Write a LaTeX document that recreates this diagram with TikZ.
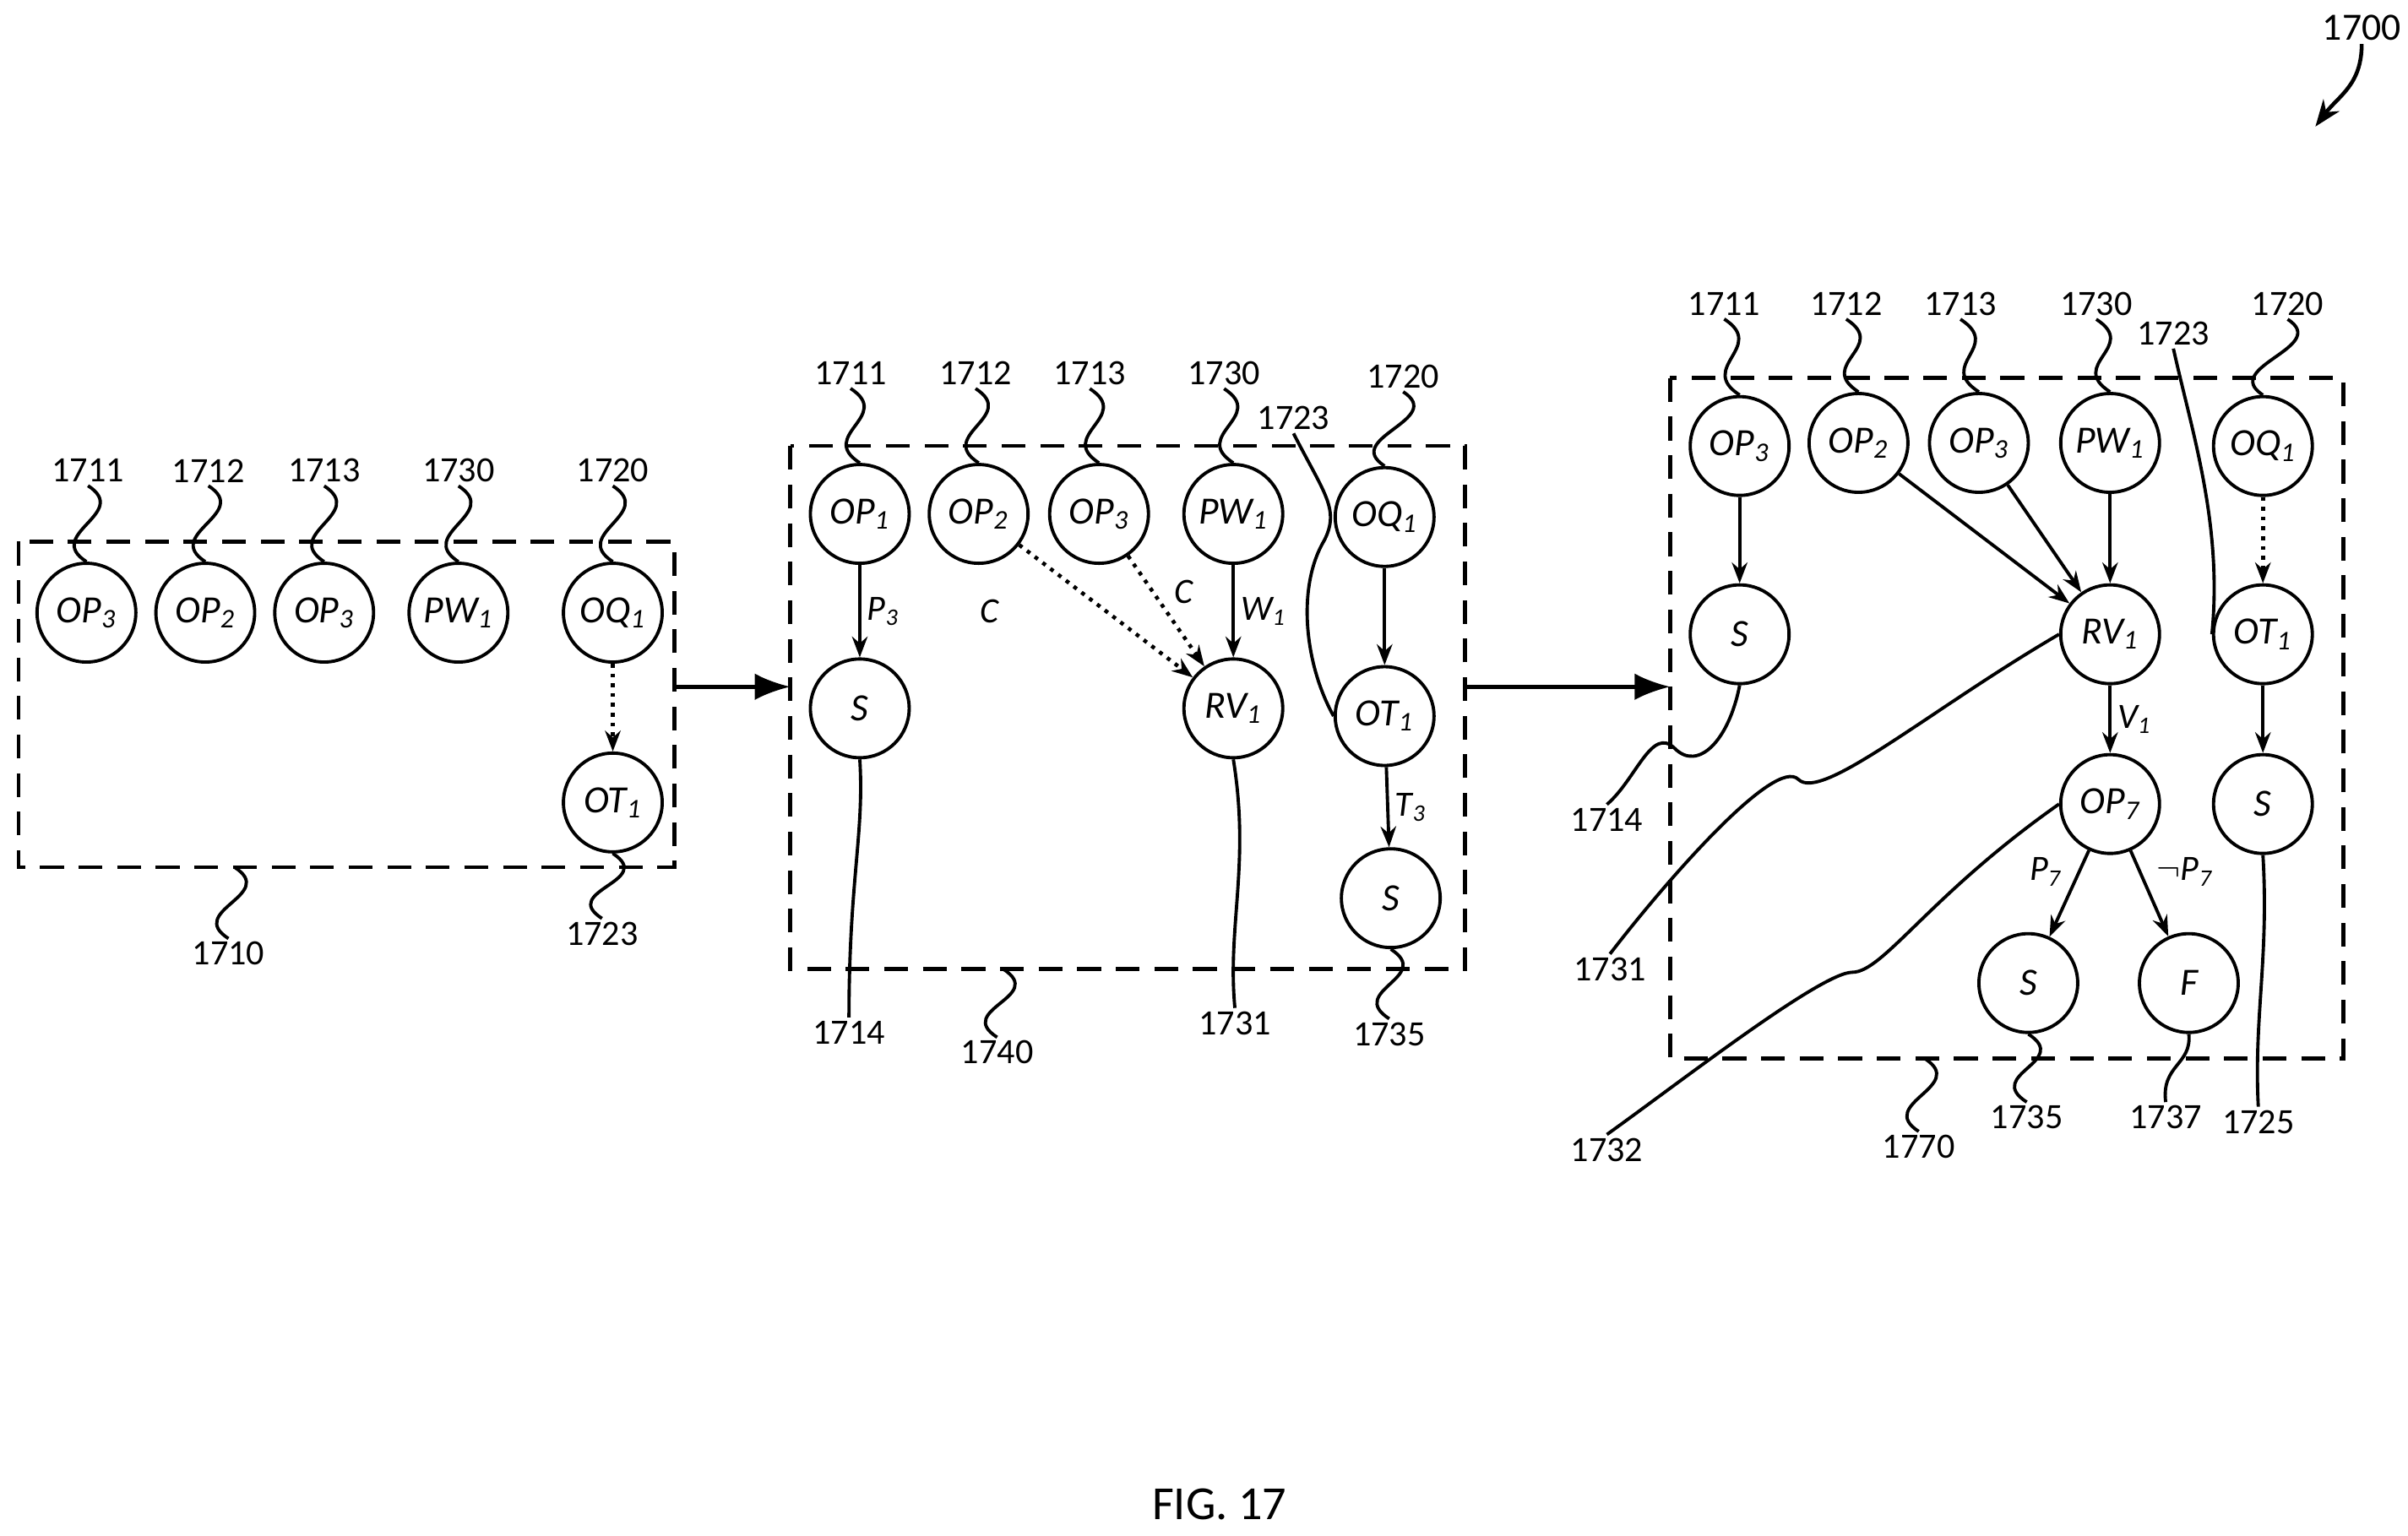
\documentclass[tikz,border=0pt]{standalone}
\usepackage{fontspec}
\setmainfont{Carlito}
\usetikzlibrary{arrows.meta}
\tikzset{
  st/.style={circle, draw, line width=1.1pt, minimum size=1.17cm, inner sep=0pt, font=\fontsize{13}{14}\selectfont\itshape},
  num/.style={font=\fontsize{12}{13}\selectfont, inner sep=1pt},
  edge/.style={line width=1.1pt, -{Stealth[length=7pt]}},
  dot/.style={line width=1.3pt, dotted, -{Stealth[length=7pt]}},
  lead/.style={line width=1.1pt},
  frame/.style={line width=1.3pt, dash pattern=on 8pt off 5pt},
  lbl/.style={font=\fontsize{12}{13}\selectfont\itshape, inner sep=2pt}
}
\newcommand\sq[2]{\draw[lead] (#1) .. controls +(28,18) and +(-28,-18) .. (#2);}
\newcommand\sub[1]{\textsubscript{#1}}
\begin{document}
\begin{tikzpicture}[x=0.018276cm, y=-0.018276cm]
\useasboundingbox (0,0) rectangle (1560,995);
% panel 1
\draw[frame] (12,351) rectangle (437,562);
\node[st] (a1) at (56,397) {OP\sub{3}};
\node[st] (a2) at (133,397) {OP\sub{2}};
\node[st] (a3) at (210,397) {OP\sub{3}};
\node[st] (a4) at (297,397) {PW\sub{1}};
\node[st] (a5) at (397,397) {OQ\sub{1}};
\node[st] (a6) at (397,520) {OT\sub{1}};
\draw[dot] (a5) -- (a6);
\node[num] (na1) at (57,305) {1711};
\node[num] (na2) at (135,305) {1712};
\node[num] (na3) at (210,305) {1713};
\node[num] (na4) at (297,305) {1730};
\node[num] (na5) at (397,305) {1720};
\sq{na1.south}{a1.north}
\sq{na2.south}{a2.north}
\sq{na3.south}{a3.north}
\sq{na4.south}{a4.north}
\sq{na5.south}{a5.north}
\node[num] (na6) at (390,605) {1723};
\sq{a6.south}{na6.north}
\node[num] (na7) at (148,618) {1710};
\coordinate (fa) at (152,562);
\sq{fa}{na7.north}
% arrow 1
\coordinate (p1) at (437,445);
\coordinate (p2) at (512,445);
\draw[line width=1.3pt, -{Latex[length=12pt,width=9pt]}] (p1) -- (p2);
% panel 2
\draw[frame] (512,289) rectangle (949,628);
\node[st] (b1) at (557,333) {OP\sub{1}};
\node[st] (b2) at (634,333) {OP\sub{2}};
\node[st] (b3) at (712,333) {OP\sub{3}};
\node[st] (b4) at (799,333) {PW\sub{1}};
\node[st] (b5) at (897,335) {OQ\sub{1}};
\node[st] (b6) at (557,459) {S};
\node[st] (b7) at (799,459) {RV\sub{1}};
\node[st] (b8) at (897,464) {OT\sub{1}};
\node[st] (b9) at (901,582) {S};
\draw[edge] (b1) -- node[lbl, right] {P\sub{3}} (b6);
\draw[dot] (b2) -- (b7);
\node[lbl] at (641,396) {C};
\draw[dot] (b3) -- node[lbl, above right] {C} (b7);
\draw[edge] (b4) -- node[lbl, right] {W\sub{1}} (b7);
\draw[edge] (b5) -- (b8);
\draw[edge] (b8) -- node[lbl, right] {T\sub{3}} (b9);
\node[num] (nb1) at (551,242) {1711};
\node[num] (nb2) at (632,242) {1712};
\node[num] (nb3) at (706,242) {1713};
\node[num] (nb4) at (793,242) {1730};
\node[num] (nb5) at (909,244) {1720};
\sq{nb1.south}{b1.north}
\sq{nb2.south}{b2.north}
\sq{nb3.south}{b3.north}
\sq{nb4.south}{b4.north}
\sq{nb5.south}{b5.north}
\node[num] (nb6) at (838,271) {1723};
\draw[lead] (nb6.south) .. controls (858,320) and (868,330) .. (858,350) .. controls (840,380) and (845,430) .. (b8.west);
\node[num] (nb7) at (550,669) {1714};
\draw[lead] (b6.south) .. controls (560,540) and (550,570) .. (nb7.north);
\node[num] (nb8) at (800,663) {1731};
\draw[lead] (b7.south) .. controls (810,560) and (795,600) .. (nb8.north);
\node[num] (nb9) at (900,670) {1735};
\sq{b9.south}{nb9.north}
\node[num] (nb10) at (646,682) {1740};
\coordinate (fb) at (650,628);
\sq{fb}{nb10.north}
% arrow 2
\coordinate (p3) at (949,445);
\coordinate (p4) at (1082,445);
\draw[line width=1.3pt, -{Latex[length=12pt,width=9pt]}] (p3) -- (p4);
% panel 3
\draw[frame] (1082,245) rectangle (1518,686);
\node[st] (c1) at (1127,289) {OP\sub{3}};
\node[st] (c2) at (1204,287) {OP\sub{2}};
\node[st] (c3) at (1282,287) {OP\sub{3}};
\node[st] (c4) at (1367,287) {PW\sub{1}};
\node[st] (c5) at (1466,289) {OQ\sub{1}};
\node[st] (c6) at (1127,411) {S};
\node[st] (c7) at (1367,411) {RV\sub{1}};
\node[st] (c8) at (1466,411) {OT\sub{1}};
\node[st] (c9) at (1367,521) {OP\sub{7}};
\node[st] (c10) at (1466,521) {S};
\node[st] (c11) at (1314,637) {S};
\node[st] (c12) at (1418,637) {F};
\draw[edge] (c1) -- (c6);
\draw[edge] (c2) -- (c7);
\draw[edge] (c3) -- (c7);
\draw[edge] (c4) -- (c7);
\draw[dot] (c5) -- (c8);
\draw[edge] (c8) -- (c10);
\draw[edge] (c7) -- node[lbl, right] {V\sub{1}} (c9);
\draw[edge] (c9) -- node[lbl, above left] {P\sub{7}} (c11);
\draw[edge] (c9) -- node[lbl, above right] {$\neg$P\sub{7}} (c12);
\node[num] (nc1) at (1117,197) {1711};
\node[num] (nc2) at (1196,197) {1712};
\node[num] (nc3) at (1270,197) {1713};
\node[num] (nc4) at (1358,197) {1730};
\node[num] (nc5) at (1482,197) {1720};
\sq{nc1.south}{c1.north}
\sq{nc2.south}{c2.north}
\sq{nc3.south}{c3.north}
\sq{nc4.south}{c4.north}
\sq{nc5.south}{c5.north}
\node[num] (nc6) at (1408,216) {1723};
\draw[lead] (nc6.south) .. controls (1420,280) and (1440,340) .. (c8.west);
\node[num] (nc7) at (1041,531) {1714};
\draw[lead] (c6.south) .. controls (1120,480) and (1100,500) .. (1085,485) .. controls (1070,470) and (1060,505) .. (nc7.north);
\node[num] (nc8) at (1043,628) {1731};
\draw[lead] (c7.west) .. controls (1250,460) and (1180,520) .. (1165,505) .. controls (1150,490) and (1080,570) .. (nc8.north);
\node[num] (nc9) at (1041,745) {1732};
\draw[lead] (c9.west) .. controls (1250,580) and (1220,630) .. (1200,630) .. controls (1180,630) and (1090,700) .. (nc9.north);
\node[num] (nc10) at (1313,724) {1735};
\sq{c11.south}{nc10.north}
\node[num] (nc11) at (1403,724) {1737};
\draw[lead] (c12.south) .. controls (1420,690) and (1400,690) .. (nc11.north);
\node[num] (nc12) at (1463,727) {1725};
\draw[lead] (c10.south) .. controls (1470,620) and (1460,660) .. (nc12.north);
\node[num] (nc13) at (1243,743) {1770};
\coordinate (fc) at (1247,686);
\sq{fc}{nc13.north}
% figure number
\node[num, font=\fontsize{13}{14}\selectfont] (n1700) at (1530,18) {1700};
\coordinate (e1700) at (1500,82);
\draw[line width=1.3pt, -{Stealth[length=9pt]}] (n1700.south) .. controls (1530,55) and (1515,62) .. (e1700);
\node[font=\fontsize{16}{18}\selectfont] (fig) at (790,975) {FIG. 17};
\end{tikzpicture}
\end{document}
